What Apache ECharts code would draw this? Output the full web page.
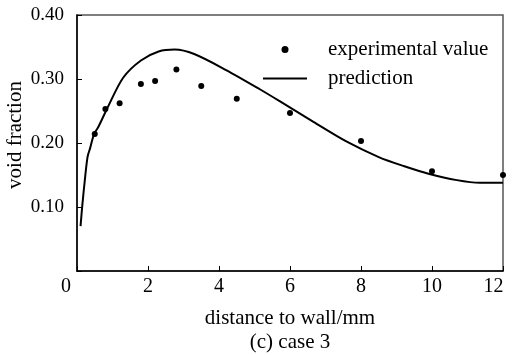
<!DOCTYPE html>
<html>
<head>
<meta charset="utf-8">
<script src="https://cdn.jsdelivr.net/npm/echarts@6/dist/echarts.min.js"></script>
<style>html,body{margin:0;padding:0;background:#fff;}#c{width:512px;height:355px;}</style>
</head>
<body>
<div id="c"></div>
<script>
var expX = [0.5, 0.8, 1.2, 1.8, 2.2, 2.8, 3.5, 4.5, 6.0, 8.0, 10.0, 12.0];
var expY = [0.214, 0.253, 0.262, 0.292, 0.297, 0.315, 0.289, 0.269, 0.247, 0.203, 0.156, 0.150];
var predX = [0.1, 0.15, 0.23, 0.3, 0.37, 0.48, 0.6, 0.85, 1.3, 1.8, 2.3, 2.75, 3.3, 4.2, 5.15, 5.72, 6.66, 7.6, 8.5, 9.2, 9.9, 10.7, 11.35, 12.0];
var predY = [0.070, 0.103, 0.147, 0.179, 0.192, 0.214, 0.225, 0.254, 0.302, 0.329, 0.343, 0.346, 0.339, 0.314, 0.284, 0.265, 0.233, 0.202, 0.178, 0.164, 0.152, 0.142, 0.138, 0.138];
var xTicks = [0, 2, 4, 6, 8, 10, 12];
var yTicks = [0.10, 0.20, 0.30, 0.40];

var font = "'Liberation Serif', 'Times New Roman', serif";
function pairs(xs, ys) { return xs.map(function (x, i) { return [x, ys[i]]; }); }

var dotIcon = 'path://M0,0M44,7M18.5,3.5a3.5,3.5 0 1,0 7,0a3.5,3.5 0 1,0 -7,0Z';
var lineIcon = 'path://M0,0M0,2.6L44,2.6L44,4.4L0,4.4ZM44,7';

var chart = echarts.init(document.getElementById('c'), null, { renderer: 'canvas' });
chart.setOption({
  animation: false,
  backgroundColor: '#fff',
  textStyle: { fontFamily: font, color: '#000' },
  title: {
    text: '(c) case 3', left: 290, top: 332, textAlign: 'center', padding: 0,
    textStyle: { fontFamily: font, fontSize: 21, fontWeight: 'normal', color: '#000' }
  },
  grid: {
    left: 77, right: 9, top: 15, bottom: 84, containLabel: false, outerBoundsMode: 'none',
    show: true, borderColor: '#555', borderWidth: 1.5, backgroundColor: 'transparent'
  },
  legend: {
    orient: 'vertical', left: 263, top: 39, padding: 0, itemGap: 8, itemWidth: 44, itemHeight: 7,
    textStyle: { fontFamily: font, fontSize: 21, color: '#000', padding: [0, 0, 0, 16] },
    data: [
      { name: 'experimental value', icon: dotIcon, itemStyle: { color: '#000', opacity: 1 } },
      { name: 'prediction', icon: lineIcon, itemStyle: { color: '#000', opacity: 1 } }
    ]
  },
  xAxis: {
    type: 'value', min: 0, max: 12, interval: 2,
    name: 'distance to wall/mm', nameLocation: 'middle', nameGap: 37, nameMoveOverlap: false,
    nameTextStyle: { fontFamily: font, fontSize: 21, color: '#000' },
    axisLine: { show: true, lineStyle: { color: '#000', width: 1.5 } },
    axisTick: { show: true, inside: true, length: 5, lineStyle: { color: '#000' } },
    splitLine: { show: false },
    axisLabel: {
      fontFamily: font, fontSize: 20, color: '#000', margin: 6,
      formatter: function (v) { return v === 0 ? '{z|0}' : (v === 12 ? '{t|12}' : String(v)); },
      rich: {
        z: { fontFamily: font, fontSize: 20, color: '#000', padding: [0, 22, 0, 0] },
        t: { fontFamily: font, fontSize: 20, color: '#000', padding: [0, 19, 0, 0] }
      }
    }
  },
  yAxis: {
    type: 'value', min: 0, max: 0.4, interval: 0.1,
    name: 'void fraction', nameLocation: 'middle', nameGap: 51, nameRotate: 90, nameMoveOverlap: false,
    nameTextStyle: { fontFamily: font, fontSize: 21, color: '#000', padding: [0, 0, 0, 16] },
    axisLine: { show: true, lineStyle: { color: '#000', width: 1.5 } },
    axisTick: { show: true, inside: true, length: 5, lineStyle: { color: '#000' } },
    splitLine: { show: false },
    axisLabel: {
      fontFamily: font, fontSize: 19, color: '#000', margin: 13,
      formatter: function (v) { return v === 0 ? '' : v.toFixed(2); }
    }
  },
  series: [
    {
      name: 'experimental value', type: 'scatter', symbol: 'circle', symbolSize: 6,
      itemStyle: { color: '#000', opacity: 1 }, data: pairs(expX, expY), z: 3
    },
    {
      name: 'prediction', type: 'line', symbol: 'none', smooth: 0.3,
      lineStyle: { color: '#000', width: 2 }, itemStyle: { color: '#000' },
      data: pairs(predX, predY), z: 2
    }
  ]
});
</script>
</body>
</html>
